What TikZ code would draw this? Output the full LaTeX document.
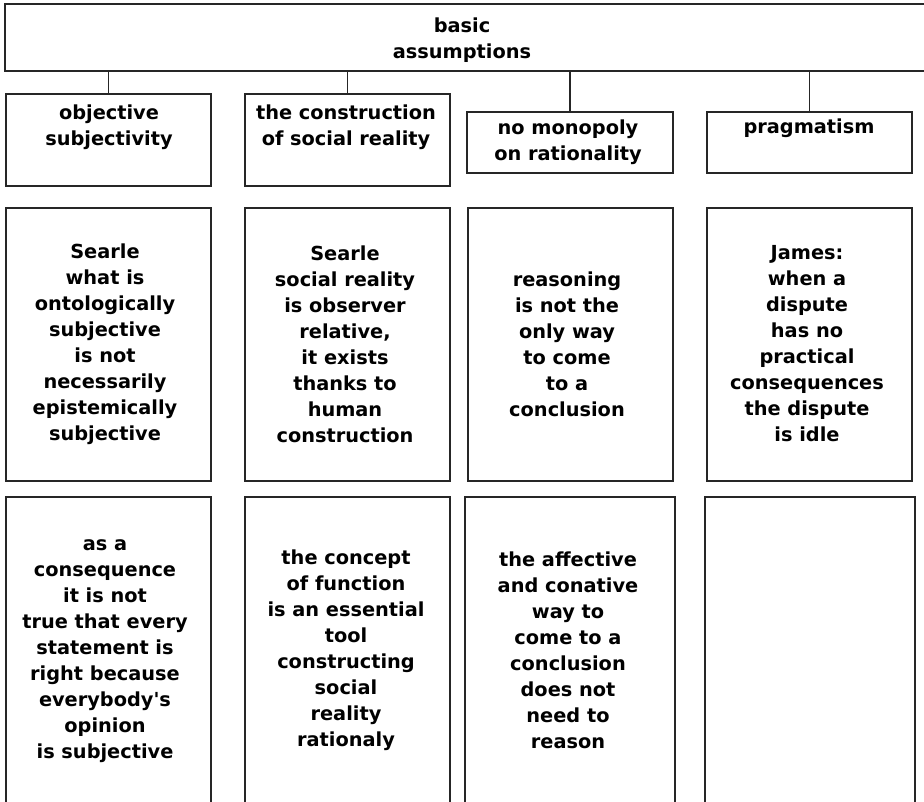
\documentclass[tikz,border=0pt]{standalone}
\usepackage{fontspec}
% a family of its own, so a typed ' stays a straight quote
\newfontfamily\boxfont{DejaVu Sans}
\begin{document}
\begin{tikzpicture}[x=0.75pt,y=-0.75pt,
  cell/.style n args={2}{draw=black!85, line width=1.3pt, inner sep=0pt,
    minimum width=#1*0.75pt, minimum height=#2*0.75pt},
  txt/.style={align=center, inner sep=0pt, text=black,
    font=\boxfont\fontsize{14.5}{19.5}\selectfont\bfseries},
  link/.style={draw=black!85, line width=1.1pt}]
% page area (the header box runs off the right edge, the last row off the bottom)
\clip (0,0) rectangle (924,801);
\fill[white] (0,0) rectangle (924,801);

% header
\node[cell={921}{67}] (top) at (465.5,37.5) {};
\node[txt] (topt) at (462,40) {basic\\assumptions};

% first row: the four assumptions
\node[cell={205}{92}] (a1) at (108.5,140) {};
\node[txt] (a1t) at (109,127) {objective\\subjectivity};
\node[cell={205}{92}] (a2) at (347.5,140) {};
\node[txt] (a2t) at (346,127) {the construction\\of social reality};
\node[cell={206}{61}] (a3) at (570,142.5) {};
\node[txt] (a3t) at (568,142) {no monopoly\\on rationality};
\node[cell={205}{61}] (a4) at (809.5,142.5) {};
\node[txt] (a4t) at (809,128) {pragmatism};

% second row
\node[cell={205}{273}] (b1) at (108.5,344.5) {};
\node[txt] (b1t) at (105,344) {Searle\\what is\\ontologically\\subjective\\is not\\necessarily\\epistemically\\subjective};
\node[cell={205}{273}] (b2) at (347.5,344.5) {};
\node[txt] (b2t) at (345,344) {Searle\\social reality\\is observer\\relative,\\it exists\\thanks to\\human\\construction};
\node[cell={205}{273}] (b3) at (570.5,344.5) {};
\node[txt] (b3t) at (567,344.5) {reasoning\\is not the\\only way\\to come\\to a\\conclusion};
\node[cell={205}{273}] (b4) at (809.5,344.5) {};
\node[txt] (b4t) at (807,344) {James:\\when a\\dispute\\has no\\practical\\consequences\\the dispute\\is idle};

% third row
\node[cell={205}{333}] (c1) at (108.5,663.5) {};
\node[txt] (c1t) at (105,651) {as a\\consequence\\it is not\\true that every\\statement is\\right because\\everybody's\\opinion\\is subjective};
\node[cell={205}{333}] (c2) at (347.5,663.5) {};
\node[txt] (c2t) at (346,650.5) {the concept\\of function\\is an essential\\tool\\constructing\\social\\reality\\rationaly};
\node[cell={210}{333}] (c3) at (570,663.5) {};
\node[txt] (c3t) at (568,650.5) {the affective\\and conative\\way to\\come to a\\conclusion\\does not\\need to\\reason};
\node[cell={210}{333}] (c4) at (810,663.5) {};

% connectors from the header to each assumption
\foreach \n in {a1,a2,a3,a4}
  \draw[link] (\n.north) -- (\n.north |- top.south);
\end{tikzpicture}
\end{document}
